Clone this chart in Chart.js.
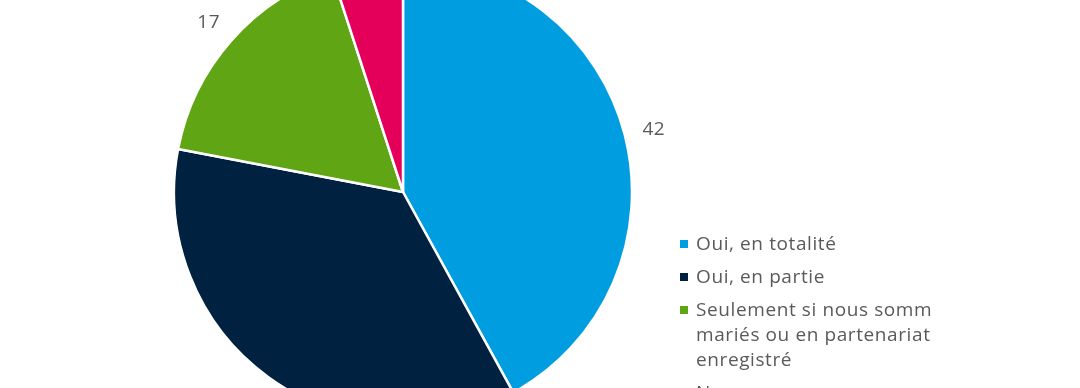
<!DOCTYPE html>
<html>
<head>
<meta charset="utf-8">
<script src="https://cdn.jsdelivr.net/npm/chart.js@4/dist/chart.umd.min.js"></script>
<style>
  html, body { margin: 0; padding: 0; background: #fff; overflow: hidden; }
  #wrap { position: relative; width: 1080px; height: 388px; }
</style>
</head>
<body>
<div id="wrap"><canvas id="myChart" width="1080" height="388"></canvas></div>
<script>
// data
const categories = [
  'Oui, en totalité',
  'Oui, en partie',
  ['Seulement si nous sommes', 'mariés ou en partenariat', 'enregistré'],
  'Non'
];
const values = [42, 36, 17, 5];
const colors = ['#009ee0', '#00213f', '#5fa514', '#e4005a'];

const FONT = '"Open Sans", "Noto Sans", sans-serif';
const TEXT = '#5a5a5a';

// value labels just outside the pie
const sliceLabels = {
  id: 'sliceLabels',
  afterDatasetsDraw(chart) {
    const ctx = chart.ctx;
    const meta = chart.getDatasetMeta(0);
    ctx.save();
    ctx.font = '19px ' + FONT;
    ctx.letterSpacing = '0.6px';
    ctx.fillStyle = TEXT;
    ctx.textAlign = 'center';
    ctx.textBaseline = 'middle';
    meta.data.forEach((arc, i) => {
      const p = arc.getProps(['x', 'y', 'startAngle', 'endAngle', 'outerRadius'], true);
      const mid = (p.startAngle + p.endAngle) / 2;
      const r = p.outerRadius + 30;
      ctx.fillText(String(values[i]), p.x + Math.cos(mid) * r, p.y + Math.sin(mid) * r + 2);
    });
    ctx.restore();
  }
};

// legend on the right, clipped like the original
const sideLegend = {
  id: 'sideLegend',
  afterDraw(chart) {
    const ctx = chart.ctx;
    ctx.save();
    ctx.beginPath();
    ctx.rect(670, 220, 262, 200);
    ctx.clip();
    ctx.font = '19px ' + FONT;
    ctx.letterSpacing = '0.6px';
    ctx.textBaseline = 'middle';
    ctx.textAlign = 'left';
    let y = 244;
    categories.forEach((c, i) => {
      const lines = Array.isArray(c) ? c : [c];
      ctx.fillStyle = colors[i];
      ctx.fillRect(680, y - 4, 8, 8);
      ctx.fillStyle = TEXT;
      lines.forEach((t, j) => ctx.fillText(t, 696, y + 1 + j * 25));
      y += (lines.length - 1) * 25 + 33;
    });
    ctx.restore();
  }
};

new Chart(document.getElementById('myChart'), {
  type: 'pie',
  data: {
    labels: categories,
    datasets: [{
      data: values,
      backgroundColor: colors,
      borderColor: '#ffffff',
      borderWidth: 2.5
    }]
  },
  options: {
    responsive: false,
    animation: false,
    radius: 229,
    layout: { padding: { left: 0, right: 274, top: 0, bottom: 4 } },
    plugins: {
      legend: { display: false },
      tooltip: { enabled: false }
    }
  },
  plugins: [sliceLabels, sideLegend]
});
</script>
</body>
</html>
